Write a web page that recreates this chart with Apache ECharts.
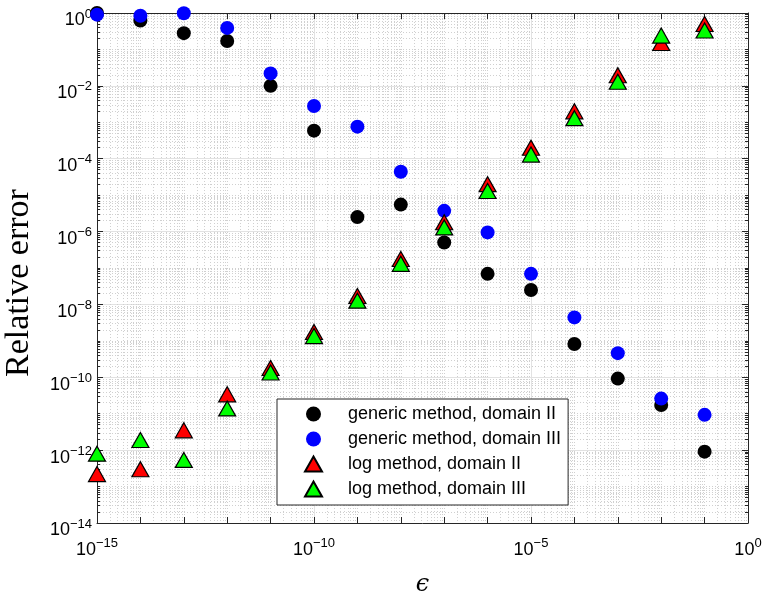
<!DOCTYPE html>
<html>
<head>
<meta charset="utf-8">
<title>Relative error vs epsilon</title>
<script src="https://cdn.jsdelivr.net/npm/echarts@6/dist/echarts.min.js"></script>
<style>
  html, body { margin: 0; padding: 0; background: #fff; }
  #chart { width: 765px; height: 592px; }
</style>
</head>
<body>
<div id="chart"></div>
<script>
// epsilon values (one per decade)
var epsValues = [1e-15, 1e-14, 1e-13, 1e-12, 1e-11, 1e-10, 1e-9, 1e-8, 1e-7, 1e-6, 1e-5, 1e-4, 1e-3, 1e-2, 1e-1];

// relative errors of each method / domain
var genericDomainII = [1.0, 0.62, 0.28, 0.17, 1.0e-2, 5.9e-4, 2.5e-6, 5.5e-6, 5.0e-7, 6.9e-8, 2.5e-8, 8.2e-10, 9.2e-11, 1.74e-11, 9.1e-13];
var genericDomainIII = [0.9, 0.84, 0.98, 0.39, 2.2e-2, 2.8e-3, 7.6e-4, 4.4e-5, 3.7e-6, 9.5e-7, 6.9e-8, 4.4e-9, 4.6e-10, 2.6e-11, 9.3e-12];
var logDomainII = [2.2e-13, 3.0e-13, 3.5e-12, 3.4e-11, 1.8e-10, 1.75e-9, 1.7e-8, 1.77e-7, 1.8e-6, 2.0e-5, 2.0e-4, 2.0e-3, 1.95e-2, 0.15, 0.5];
var logDomainIII = [8.0e-13, 1.9e-12, 5.4e-13, 1.4e-11, 1.35e-10, 1.35e-9, 1.27e-8, 1.3e-7, 1.3e-6, 1.3e-5, 1.3e-4, 1.3e-3, 1.3e-2, 0.24, 0.33];

var seriesNames = ['generic method, domain II', 'generic method, domain III', 'log method, domain II', 'log method, domain III'];

// axis ranges, in decades
var xMinExp = -15, xMaxExp = 0;
var yMinExp = -14, yMaxExp = 0;

var AXIS_COLOR = '#262626';
var MAJOR_GRID = '#e2e2e2';
var MINOR_GRID = '#d0d0d0';
var TICK_FONT = '"Liberation Sans", Arial, Helvetica, sans-serif';

function toLogPairs(xs, ys) {
  return xs.map(function (x, i) { return [Math.log10(x), Math.log10(ys[i])]; });
}

// decade positions and in-between k*10^n positions (exponent space)
function decades(lo, hi, skipEvery) {
  var out = [];
  for (var e = lo; e <= hi; e++) {
    if (skipEvery && e % skipEvery === 0) continue;
    out.push(e);
  }
  return out;
}
function subDecades(lo, hi) {
  var out = [];
  for (var e = lo; e < hi; e++) {
    for (var k = 2; k <= 9; k++) out.push(e + Math.log10(k));
  }
  return out;
}

function powLabel(v) {
  var n = Math.round(v);
  var s = n < 0 ? '\u2212' + (-n) : String(n);
  return '{b|10}{s|' + s + '}';
}
var powRich = {
  b: { fontSize: 18, fontFamily: TICK_FONT, color: '#000', verticalAlign: 'bottom', padding: [4, 0, 0, 0] },
  s: { fontSize: 13, fontFamily: TICK_FONT, color: '#000', verticalAlign: 'top' }
};

var dotted = { color: MINOR_GRID, width: 1, type: [1, 2] };

function baseAxis(extra) {
  var a = {
    type: 'value',
    axisLine: { show: false, onZero: false },
    axisTick: { show: false },
    axisLabel: { show: false },
    splitLine: { show: false },
    minorTick: { show: false },
    minorSplitLine: { show: false },
    silent: true
  };
  for (var k in extra) a[k] = extra[k];
  return a;
}

var xAxes = [
  // main bottom axis: labels, major grid
  baseAxis({
    position: 'bottom', min: xMinExp, max: xMaxExp, interval: 5,
    name: '\u03f5', nameLocation: 'middle', nameGap: 50,
    nameTextStyle: { fontFamily: '"DejaVu Serif", serif', fontStyle: 'italic', fontSize: 24, color: '#000' },
    axisLine: { show: true, onZero: false, lineStyle: { color: AXIS_COLOR, width: 1 } },
    axisTick: { show: true, inside: true, length: 6, lineStyle: { color: AXIS_COLOR } },
    axisLabel: { show: true, margin: 14, formatter: powLabel, rich: powRich },
    splitLine: { show: true, lineStyle: { color: MAJOR_GRID, width: 1 } }
  }),
  // decade ticks with dotted grid
  baseAxis({
    position: 'bottom', min: xMinExp, max: xMaxExp,
    axisTick: { show: true, inside: true, length: 6, lineStyle: { color: AXIS_COLOR }, customValues: decades(xMinExp + 1, xMaxExp - 1, 5) },
    splitLine: { show: true, lineStyle: dotted }
  }),
  // k*10^n dotted grid
  baseAxis({
    position: 'bottom', min: xMinExp, max: xMaxExp,
    axisTick: { show: false, customValues: subDecades(xMinExp, xMaxExp) },
    splitLine: { show: true, lineStyle: dotted }
  }),
  // top frame with decade ticks
  baseAxis({
    position: 'top', min: xMinExp, max: xMaxExp, interval: 1,
    axisLine: { show: true, onZero: false, lineStyle: { color: AXIS_COLOR, width: 1 } },
    axisTick: { show: true, inside: true, length: 6, lineStyle: { color: AXIS_COLOR } }
  })
];

var yMinor = subDecades(yMinExp, yMaxExp).concat(decades(yMinExp + 1, yMaxExp - 1).filter(function (e) { return e % 2 !== 0; }));

var yAxes = [
  baseAxis({
    position: 'left', min: yMinExp, max: yMaxExp, interval: 2,
    name: 'Relative error', nameLocation: 'middle', nameGap: 61, nameRotate: 90,
    nameTextStyle: { fontFamily: '"Liberation Serif", "Times New Roman", serif', fontSize: 34, color: '#000', padding: [0, 30, 0, 0] },
    axisLine: { show: true, onZero: false, lineStyle: { color: AXIS_COLOR, width: 1 } },
    axisTick: { show: true, inside: true, length: 6, lineStyle: { color: AXIS_COLOR } },
    axisLabel: { show: true, margin: 5, padding: [11, 0, 0, 0], formatter: powLabel, rich: powRich },
    splitLine: { show: true, lineStyle: { color: MAJOR_GRID, width: 1 } }
  }),
  baseAxis({
    position: 'left', min: yMinExp, max: yMaxExp,
    axisTick: { show: true, inside: true, length: 3, lineStyle: { color: AXIS_COLOR }, customValues: yMinor },
    splitLine: { show: true, lineStyle: dotted }
  }),
  baseAxis({
    position: 'right', min: yMinExp, max: yMaxExp, interval: 2,
    axisLine: { show: true, onZero: false, lineStyle: { color: AXIS_COLOR, width: 1 } },
    axisTick: { show: true, inside: true, length: 6, lineStyle: { color: AXIS_COLOR } }
  }),
  baseAxis({
    position: 'right', min: yMinExp, max: yMaxExp,
    axisTick: { show: true, inside: true, length: 3, lineStyle: { color: AXIS_COLOR }, customValues: yMinor }
  })
];

function scatter(name, values, symbol, size, color, border) {
  return {
    name: name,
    type: 'scatter',
    xAxisIndex: 0,
    yAxisIndex: 0,
    clip: false,
    symbol: symbol,
    symbolSize: size,
    itemStyle: { color: color, borderColor: border ? '#000' : color, borderWidth: border ? 1.2 : 0, opacity: 1 },
    emphasis: { disabled: true },
    data: toLogPairs(epsValues, values)
  };
}

var chart = echarts.init(document.getElementById('chart'), null, { renderer: 'canvas' });
chart.setOption({
  animation: false,
  backgroundColor: '#fff',
  grid: { left: 97, right: 17, top: 13, bottom: 69, outerBoundsMode: 'none' },
  xAxis: xAxes,
  yAxis: yAxes,
  legend: {
    orient: 'vertical',
    left: 277,
    top: 399,
    data: seriesNames,
    backgroundColor: '#fff',
    borderColor: AXIS_COLOR,
    borderWidth: 1,
    borderRadius: 0,
    padding: [6, 7, 7, 27],
    itemGap: 7,
    itemWidth: 17,
    itemHeight: 15,
    selectedMode: false,
    textStyle: { fontFamily: TICK_FONT, fontSize: 18, color: '#000', lineHeight: 18, padding: [0, 0, 0, 21] }
  },
  series: [
    scatter(seriesNames[0], genericDomainII, 'circle', 14, '#000000', false),
    scatter(seriesNames[1], genericDomainIII, 'circle', 14, '#0000ff', false),
    scatter(seriesNames[2], logDomainII, 'triangle', [17, 15], '#ff0000', true),
    scatter(seriesNames[3], logDomainIII, 'triangle', [17, 15], '#00ff00', true)
  ]
});
</script>
</body>
</html>
